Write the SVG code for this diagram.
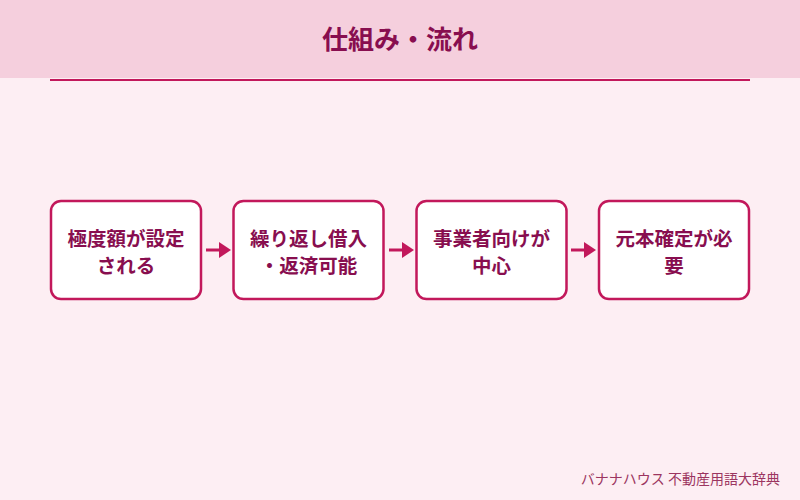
<svg xmlns="http://www.w3.org/2000/svg" width="800" height="500" viewBox="0 0 800 500">
<style>
.box{fill:#ffffff;stroke:#c2185b;stroke-width:2.5}
.t{font-family:"Noto Sans CJK JP","Noto Sans CJK SC",sans-serif;font-size:19.5px;font-weight:bold;fill:#880e4f;text-anchor:middle}
.conn{stroke:#c2185b;stroke-width:3;fill:none}
.head{fill:#c2185b}
</style>
<rect x="0" y="0" width="800" height="500" fill="#fdeef3"/>
<rect x="0" y="0" width="800" height="78" fill="#f5cfdd"/>
<line x1="50" y1="80" x2="750" y2="80" stroke="#c2185b" stroke-width="2"/>
<text x="400" y="49" font-family="'Noto Sans CJK JP','Noto Sans CJK SC',sans-serif" font-size="26" font-weight="bold" fill="#880e4f" text-anchor="middle">仕組み・流れ</text>
<g id="node1"><rect class="box" x="51" y="201" width="150" height="98" rx="10"/><text class="t" x="126" y="246">極度額が設定</text><text class="t" x="126" y="273">される</text></g>
<g id="node2"><rect class="box" x="233.5" y="201" width="150" height="98" rx="10"/><text class="t" x="308.5" y="246">繰り返し借入</text><text class="t" x="308.5" y="273">・返済可能</text></g>
<g id="node3"><rect class="box" x="416.5" y="201" width="150" height="98" rx="10"/><text class="t" x="491.5" y="246">事業者向けが</text><text class="t" x="491.5" y="273">中心</text></g>
<g id="node4"><rect class="box" x="599" y="201" width="150" height="98" rx="10"/><text class="t" x="674" y="246">元本確定が必</text><text class="t" x="674" y="273">要</text></g>
<g id="connectors">
<line class="conn" x1="206" y1="250" x2="220" y2="250"/><polygon class="head" points="219,242 231,250 219,258"/>
<line class="conn" x1="389" y1="250" x2="403" y2="250"/><polygon class="head" points="402,242 414,250 402,258"/>
<line class="conn" x1="571" y1="250" x2="585" y2="250"/><polygon class="head" points="584,242 596,250 584,258"/>
</g>
<text x="780" y="484" font-family="'Noto Sans CJK JP','Noto Sans CJK SC',sans-serif" font-size="14" fill="#9c3560" text-anchor="end">バナナハウス 不動産用語大辞典</text>
</svg>
